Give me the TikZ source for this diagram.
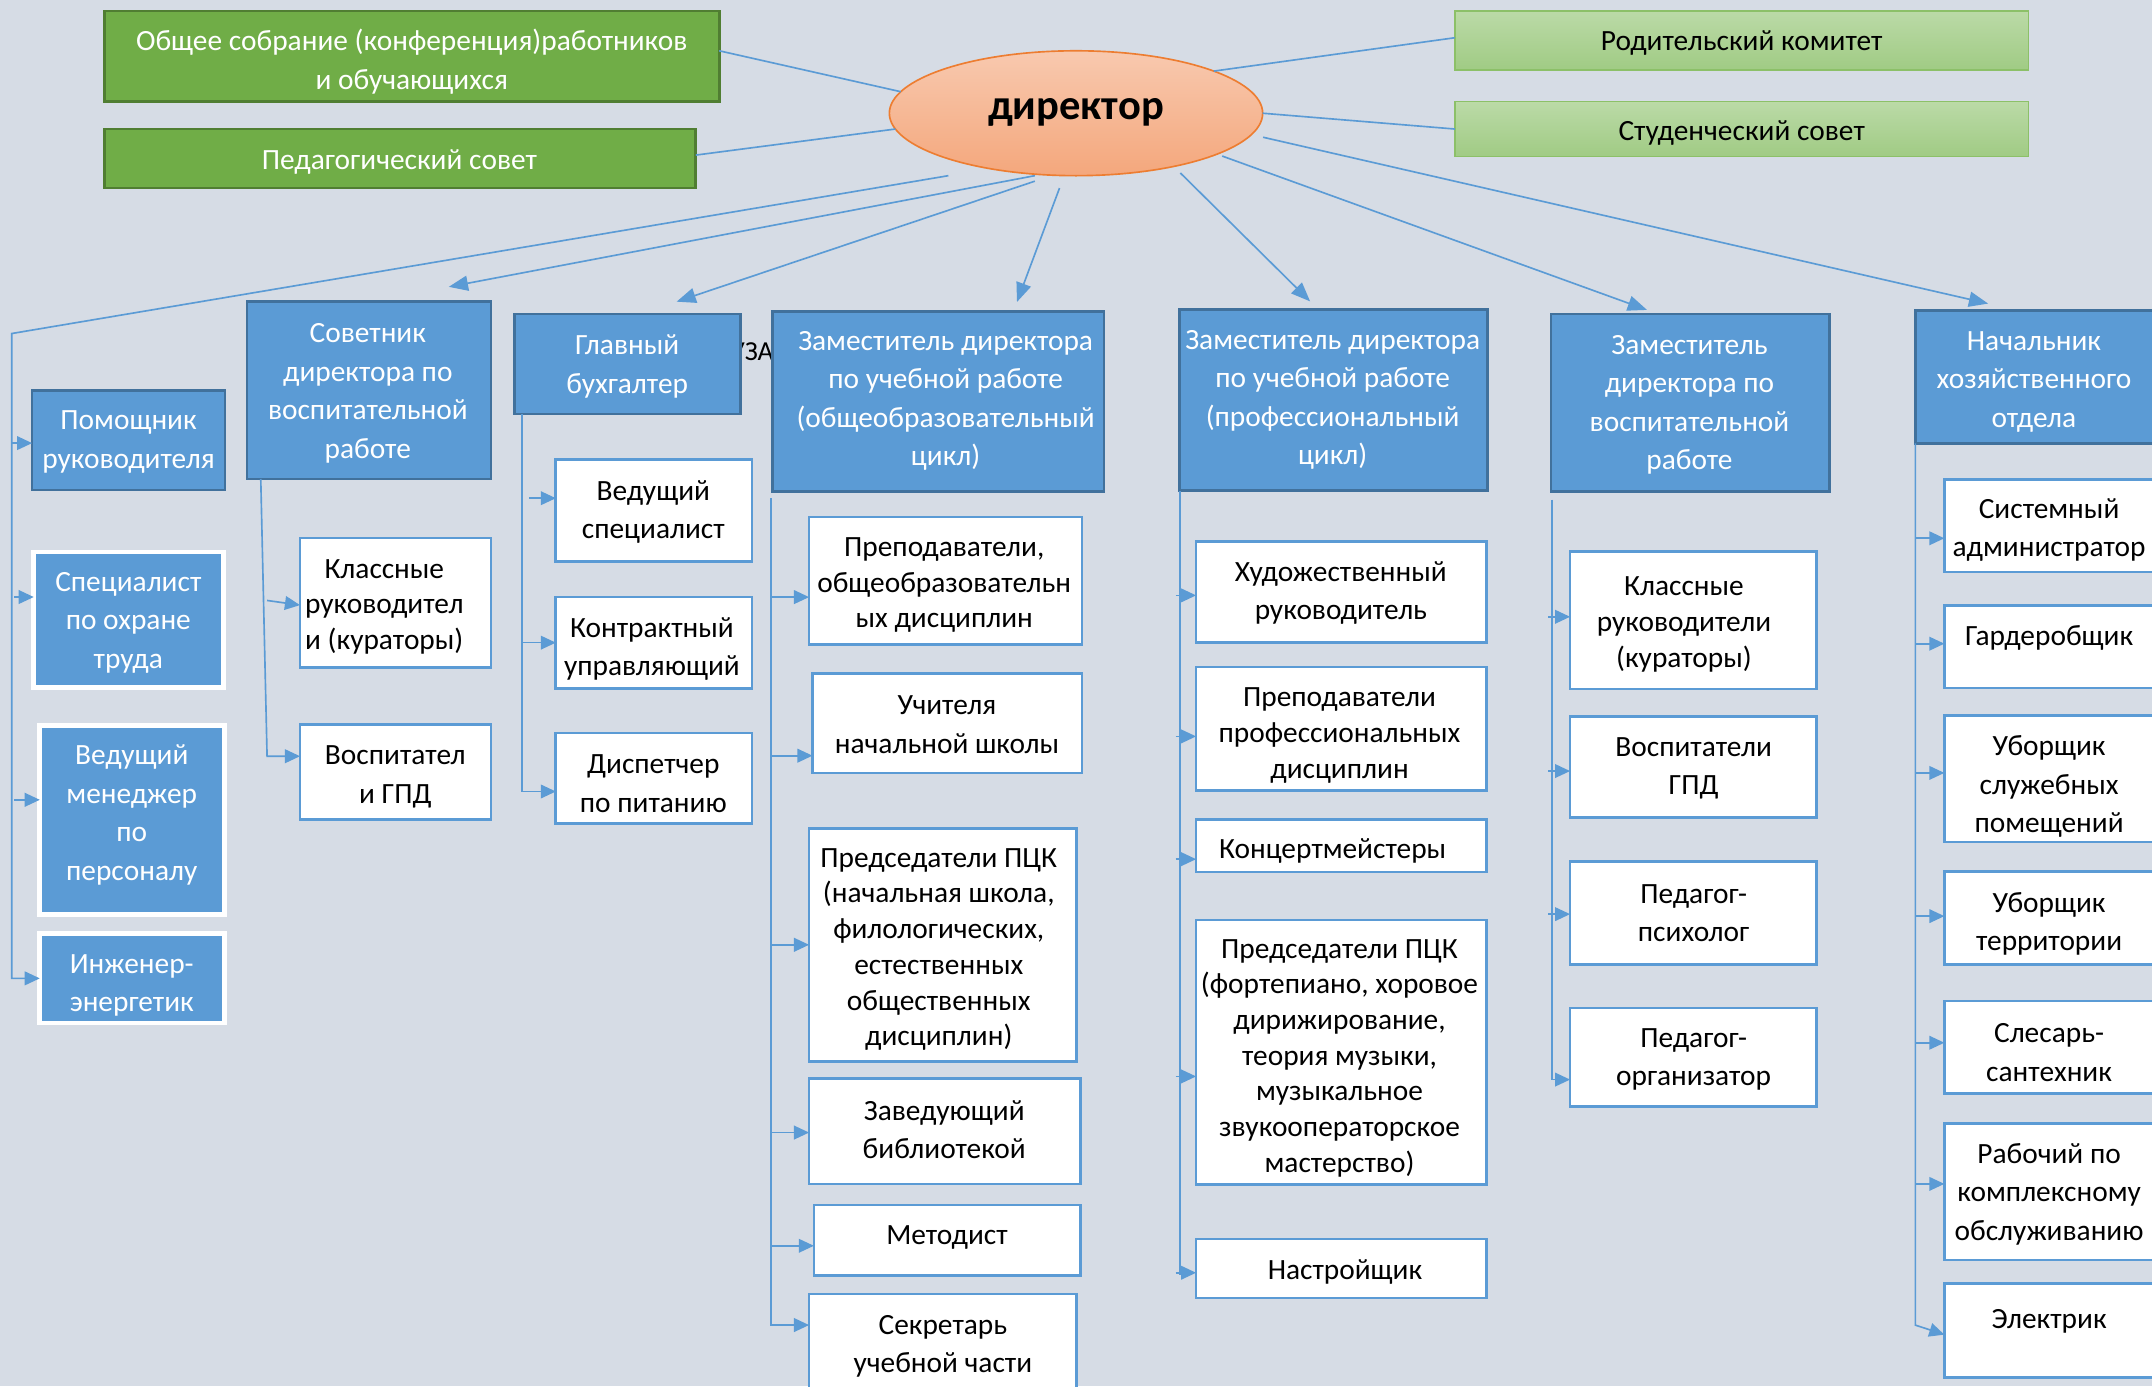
\documentclass[tikz,border=0pt]{standalone}
\usepackage{fontspec}
\setmainfont{Carlito}
\usetikzlibrary{arrows.meta,fit,shapes.geometric}
\definecolor{bg}{HTML}{D6DCE5}
\definecolor{bl}{HTML}{5B9BD5}
\definecolor{bld}{HTML}{41719C}
\definecolor{gr}{HTML}{70AD47}
\definecolor{grd}{HTML}{507E32}
\definecolor{lgt}{HTML}{BBDAA7}
\definecolor{lgb}{HTML}{A0CB84}
\definecolor{lgd}{HTML}{8CC068}
\definecolor{ort}{HTML}{F8C9AF}
\definecolor{orb}{HTML}{F4A77C}
\definecolor{ord}{HTML}{ED7D31}
\tikzset{
  box/.style={inner sep=0pt, outer sep=0pt, line width=1.5pt},
  bluebox/.style={box, fill=bl, draw=bld, line width=2pt},
  bluew/.style={box, fill=bl, draw=white, line width=3.5pt},
  wbox/.style={box, fill=white, draw=bl, line width=2pt},
  grbox/.style={box, fill=gr, draw=grd, line width=2pt},
  lgbox/.style={box, top color=lgt, bottom color=lgb, draw=lgd, line width=1.3pt},
  txt/.style={align=center, inner sep=0pt, yshift=-2pt, font=\fontsize{21.4}{28}\selectfont},
  tight/.style={font=\fontsize{21.4}{26}\selectfont},
  wtxt/.style={txt, text=white},
  btxt/.style={txt, text=black},
  conn/.style={draw=bl, line width=1.2pt},
  arr/.style={conn, -{Triangle[length=14pt,width=11pt]}},
  sarr/.style={conn, -{Triangle[length=11pt,width=10pt]}},
}
\begin{document}
\begin{tikzpicture}[x=1pt,y=-1pt]
\useasboundingbox (0,0) rectangle (1568,1010);
\clip (0,0) rectangle (1568,1010);
\fill[bg] (0,0) rectangle (1568,1010);

% director
\node[ellipse, minimum width=272pt, minimum height=91pt, inner sep=0pt, outer sep=0pt,
  top color=ort, bottom color=orb, draw=ord, line width=1.2pt] (dir) at (784,82.5) {};
\node[font=\bfseries\fontsize{31}{36}\selectfont, inner sep=0pt] (dirt) at (784,82) {директор};

% councils
\node[grbox, fit={(76,8) (524,74)}] (g1) {};
\node[wtxt] (g1t) at (300,43) {Общее собрание (конференция)работников\\и обучающихся};
\node[grbox, fit={(76,94) (507,137)}] (g2) {};
\node[wtxt] (g2t) at (291,116) {Педагогический совет};
\node[lgbox, fit={(1060,8) (1478,51)}] (rod) {};
\node[btxt] (rodt) at (1269,29) {Родительский комитет};
\node[lgbox, fit={(1060,74) (1478,114)}] (stud) {};
\node[btxt] (studt) at (1269,95) {Студенческий совет};

\draw[conn] ([yshift=4]g1.east) -- (dir.173);
\draw[conn] ([yshift=2.5]g2.east) -- (dir.185);
\draw[conn] (dir.17) -- ([yshift=2]rod.west);
\draw[conn] (dir.0) -- (stud.west);

% hidden text fragment
\node[anchor=base west, inner sep=0pt, font=\fontsize{20}{24}\selectfont] (frag) at (532,263) {УЗА};

% heads
\node[bluebox, fit={(180,219.6) (357.8,349)}] (sov) {};
\node[wtxt] (sovt) at (268,284.5) {Советник\\директора по\\воспитательной\\работе};
\node[bluebox, fit={(375,228.8) (539.4,301.7)}] (bux) {};
\node[wtxt] (buxt) at (457,265) {Главный\\бухгалтер};
\node[bluebox, fit={(562.8,227) (804.4,358)}] (zo) {};
\node[wtxt] (zot) at (689,290) {Заместитель директора\\по учебной работе\\(общеобразовательный\\цикл)};
\node[bluebox, fit={(859.3,225.6) (1083.7,357.6)}] (zp) {};
\node[wtxt] (zpt) at (971,289.5) {Заместитель директора\\по учебной работе\\(профессиональный\\цикл)};
\node[bluebox, fit={(1130,228.8) (1333,358)}] (zv) {};
\node[wtxt] (zvt) at (1231,293) {Заместитель\\директора по\\воспитательной\\работе};
\node[bluebox, fit={(1395.4,226.2) (1575,323)}] (nach) {};
\node[wtxt] (nacht) at (1482,276.3) {Начальник\\хозяйственного\\отдела};

% left column
\node[bluebox, fit={(23.4,284.7) (164,357)}] (pom) {};
\node[wtxt] (pomt) at (93.7,320) {Помощник\\руководителя};
\node[bluew, fit={(24.6,402.2) (163,500.8)}] (spec) {};
\node[wtxt] (spect) at (93.5,451.7) {Специалист\\по охране\\труда};
\node[bluew, fit={(29,528.4) (163.3,666.3)}] (ved) {};
\node[wtxt] (vedt) at (96,591.7) {Ведущий\\менеджер\\по\\персоналу};
\node[bluew, fit={(29,680.4) (163.3,745.3)}] (inzh) {};
\node[wtxt] (inzht) at (96,716) {Инженер-\\энергетик};

% sov children
\node[wbox, fit={(218.6,392) (357.8,486.4)}] (kl1) {};
\node[btxt, tight] (kl1t) at (280,440) {Классные\\руководител\\и (кураторы)};
\node[wbox, fit={(218.6,528) (357.8,597)}] (vs1) {};
\node[btxt] (vs1t) at (288,564) {Воспитател\\и ГПД};

% bux children
\node[wbox, fit={(405,335) (548,409)}] (vspec) {};
\node[btxt] (vspect) at (476,371) {Ведущий\\специалист};
\node[wbox, fit={(405,435) (548,501.5)}] (kontr) {};
\node[btxt] (kontrt) at (475,471) {Контрактный\\управляющий};
\node[wbox, fit={(405,534) (548,600)}] (disp) {};
\node[btxt] (dispt) at (476,569) {Диспетчер\\по питанию};

% zo children
\node[wbox, fit={(589.5,376.6) (788.4,469.5)}] (prep1) {};
\node[btxt, tight] (prep1t) at (688,424.3) {Преподаватели,\\общеобразовательн\\ых дисциплин};
\node[wbox, fit={(592,490.8) (788.4,563.2)}] (uch) {};
\node[btxt] (ucht) at (690,526) {Учителя\\начальной школы};
\node[wbox, fit={(589.5,603.5) (784.5,773.3)}] (pck1) {};
\node[btxt, tight] (pck1t) at (684,689.8) {Председатели ПЦК\\(начальная школа,\\филологических,\\естественных\\общественных\\дисциплин)};
\node[wbox, fit={(589.5,785.8) (787.4,862.6)}] (zav) {};
\node[btxt] (zavt) at (688,821) {Заведующий\\библиотекой};
\node[wbox, fit={(593,878) (787.4,929.6)}] (met) {};
\node[btxt] (mett) at (690,900) {Методист};
\node[wbox, fit={(589.5,942.9) (784.5,1030)}] (sek) {};
\node[btxt] (sekt) at (687,979) {Секретарь\\учебной части};

% zp children
\node[wbox, fit={(871.5,394.8) (1083.3,468.2)}] (hud) {};
\node[btxt] (hudt) at (977,430) {Художественный\\руководитель};
\node[wbox, fit={(871.5,485.9) (1083.3,576.2)}] (prep2) {};
\node[btxt, tight] (prep2t) at (976,534) {Преподаватели\\профессиональных\\дисциплин};
\node[wbox, fit={(871.5,597) (1083.3,635.4)}] (konc) {};
\node[btxt] (konct) at (971,618) {Концертмейстеры};
\node[wbox, fit={(871.5,670.4) (1083.3,863.2)}] (pck2) {};
\node[btxt, tight] (pck2t) at (976,769) {Председатели ПЦК\\(фортепиано, хоровое\\дирижирование,\\теория музыки,\\музыкальное\\звукооператорское\\мастерство)};
\node[wbox, fit={(871.5,902.8) (1083.3,945.7)}] (nastr) {};
\node[btxt] (nastrt) at (980,925) {Настройщик};

% zv children
\node[wbox, fit={(1144,402) (1323.7,502)}] (kl2) {};
\node[btxt, tight] (kl2t) at (1227,453) {Классные\\руководители\\(кураторы)};
\node[wbox, fit={(1144,522.3) (1323.7,595.7)}] (vs2) {};
\node[btxt] (vs2t) at (1234,558) {Воспитатели\\ГПД};
\node[wbox, fit={(1144,627.5) (1323.7,702.6)}] (psy) {};
\node[btxt] (psyt) at (1234,663.5) {Педагог-\\психолог};
\node[wbox, fit={(1144,734.5) (1323.7,806.3)}] (org) {};
\node[btxt] (orgt) at (1234,770) {Педагог-\\организатор};

% nach children
\node[wbox, fit={(1416.7,349.2) (1575,416.8)}] (sys) {};
\node[btxt] (syst) at (1493,384) {Системный\\администратор};
\node[wbox, fit={(1416.7,441.4) (1575,501.2)}] (gard) {};
\node[btxt] (gardt) at (1493,463) {Гардеробщик};
\node[wbox, fit={(1416.7,521.5) (1575,613.4)}] (ub1) {};
\node[btxt] (ub1t) at (1493,571) {Уборщик\\служебных\\помещений};
\node[wbox, fit={(1416.7,635) (1575,703)}] (ub2) {};
\node[btxt] (ub2t) at (1493,671) {Уборщик\\территории};
\node[wbox, fit={(1416.7,729.4) (1575,796.5)}] (sles) {};
\node[btxt] (slest) at (1493,765) {Слесарь-\\сантехник};
\node[wbox, fit={(1416.7,818.4) (1575,918)}] (rab) {};
\node[btxt] (rabt) at (1493,868) {Рабочий по\\комплексному\\обслуживанию};
\node[wbox, fit={(1416.7,935.3) (1575,1003.4)}] (el) {};
\node[btxt] (elt) at (1493,961) {Электрик};

% director arrows
\coordinate (lc) at (8.6,243);
\draw[sarr] ([xshift=-93]dir.south) -- (lc) |- (inzh.west);
\draw[arr] ([xshift=-30]dir.south) -- ([xshift=58.1,yshift=10.6]sov.north);
\draw[arr] ([xshift=-30,yshift=-4]dir.south) -- ([xshift=35.8,yshift=9]bux.north);
\draw[arr] ([xshift=-12,yshift=-9]dir.south) -- ([xshift=57.4,yshift=7]zo.north);
\draw[arr] ([xshift=76,yshift=2]dir.south) -- ([xshift=-16.9,yshift=6]zp.north);
\draw[arr] ([xshift=106.5,yshift=14.3]dir.south) -- ([xshift=-31.5,yshift=3]zv.north);
\draw[arr] ([xshift=136.3,yshift=28]dir.south) -- ([xshift=-36.6,yshift=5]nach.north);

% left branches
\draw[sarr] ([xshift=-14.8,yshift=-2]pom.west) -- ([yshift=-2]pom.west);
\draw[sarr] ([xshift=-14.3,yshift=16.5]spec.west) -- ([yshift=16.5]spec.west);
\draw[sarr] ([xshift=-18.7,yshift=14.6]ved.west) -- ([yshift=14.6]ved.west);

% sov branches
\draw[sarr] ([xshift=10]sov.south west) -- ([xshift=-24,yshift=11.5]vs1.west) -- ([yshift=11.5]vs1.west);
\draw[sarr] ([xshift=-24,yshift=1.7]kl1.west) -- ([yshift=-1.7]kl1.west);

% bux branches
\draw[sarr] ([xshift=5.4]bux.south west) |- ([yshift=-9.7]disp.west);
\draw[sarr] ([xshift=-19.5,yshift=9]vspec.west) -- ([yshift=9]vspec.west);
\draw[sarr] ([xshift=-24.6]kontr.west) -- (kontr.west);

% zo branches
\draw[sarr] ([xshift=-1,yshift=-5]zo.south west) |- ([yshift=21]sek.west);
\draw[sarr] ([xshift=-27.7,yshift=-12]prep1.west) -- ([yshift=-12]prep1.west);
\draw[sarr] ([xshift=-30.2,yshift=-23.6]uch.west) -- ([yshift=-23.6]uch.west);
\draw[sarr] ([xshift=-27.7]pck1.west) -- (pck1.west);
\draw[sarr] ([xshift=-27.7,yshift=-1]zav.west) -- ([yshift=-1]zav.west);
\draw[sarr] ([xshift=-31.2,yshift=-3.9]met.west) -- ([yshift=-3.9]met.west);

% zp branches
\draw[conn] ([xshift=0.5]zp.south west) -- ([xshift=-11.7,yshift=-4.75]nastr.west);
\draw[sarr] ([xshift=-15,yshift=-2.3]hud.west) -- ([yshift=-2.3]hud.west);
\draw[sarr] ([xshift=-15,yshift=-5.5]prep2.west) -- ([yshift=-5.5]prep2.west);
\draw[sarr] ([xshift=-15,yshift=-9.8]konc.west) -- ([yshift=-9.8]konc.west);
\draw[sarr] ([xshift=-15,yshift=-17.5]pck2.west) -- ([yshift=-17.5]pck2.west);
\draw[sarr] ([xshift=-15,yshift=-3.1]nastr.west) -- ([yshift=-3.1]nastr.west);

% zv branches
\draw[sarr] ([xshift=0.6,yshift=-6]zv.south west) |- ([yshift=-16.2]org.west);
\draw[sarr] ([xshift=-16,yshift=2.6]kl2.west) -- ([yshift=2.6]kl2.west);
\draw[sarr] ([xshift=-16,yshift=-2.8]vs2.west) -- ([yshift=-2.8]vs2.west);
\draw[sarr] ([xshift=-16,yshift=-1]psy.west) -- ([yshift=-1]psy.west);

% nach branches
\draw[sarr] ([xshift=0.2]nach.south west) -- ([xshift=-21.1,yshift=3.85]el.west) -- ([yshift=-3.1]el.west);
\draw[sarr] ([xshift=-21.1,yshift=-9.2]sys.west) -- ([yshift=-9.2]sys.west);
\draw[sarr] ([xshift=-21.1,yshift=2.3]gard.west) -- ([yshift=2.3]gard.west);
\draw[sarr] ([xshift=-21.1,yshift=4.3]ub1.west) -- ([yshift=4.3]ub1.west);
\draw[sarr] ([xshift=-21.1,yshift=1.5]ub2.west) -- ([yshift=1.5]ub2.west);
\draw[sarr] ([xshift=-21.1,yshift=3.2]sles.west) -- ([yshift=3.2]sles.west);
\draw[sarr] ([xshift=-21.1,yshift=5.6]rab.west) -- ([yshift=5.6]rab.west);
\end{tikzpicture}
\end{document}
